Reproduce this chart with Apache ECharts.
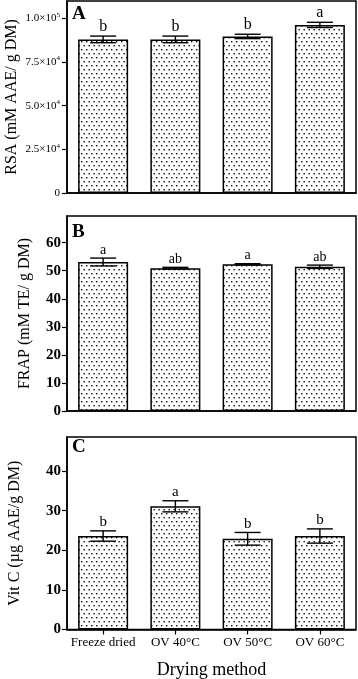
<!DOCTYPE html>
<html>
<head>
<meta charset="utf-8">
<script src="https://cdn.jsdelivr.net/npm/echarts@6/dist/echarts.min.js"></script>
<style>
    html, body { margin: 0; padding: 0; background: #fff; }
    #chart { width: 358px; height: 679px; }
</style>
</head>
<body>
<div id="chart"></div>
<script>
// drying methods
const categories = ['Freeze dried', 'OV 40°C', 'OV 50°C', 'OV 60°C']

// panel A - RSA
const rsaMean = [88000, 88000, 89700, 96300]
const rsaErr = [1900, 1900, 1250, 1500]
const rsaLetters = ['b', 'b', 'b', 'a']

// panel B - FRAP
const frapMean = [53.1, 50.9, 52.3, 51.4]
const frapErr = [1.4, 0.3, 0.2, 0.6]
const frapLetters = ['a', 'ab', 'a', 'ab']

// panel C - Vit C
const vitcMean = [23.6, 31.1, 22.9, 23.6]
const vitcErr = [1.3, 1.4, 1.6, 1.8]
const vitcLetters = ['b', 'a', 'b', 'b']

const FONT = 'Liberation Serif'

// stippled fill like the original bars
const makeDots = () => {
    const c = document.createElement('canvas')
    c.width = 10
    c.height = 8
    const ctx = c.getContext('2d')
    ctx.fillStyle = '#fff'
    ctx.fillRect(0, 0, 10, 8)
    ctx.fillStyle = '#111'
    ctx.fillRect(1, 1, 1.4, 1.4)
    ctx.fillRect(6, 1, 1.4, 1.4)
    ctx.fillRect(3.5, 5, 1.4, 1.4)
    ctx.fillRect(8.5, 5, 1.4, 1.4)
    return c
}
const dots = makeDots()

const grids = [
    { left: 67, width: 289, top: 1, height: 192 },
    { left: 67, width: 289, top: 216, height: 195 },
    { left: 67, width: 289, top: 437, height: 192.5 },
]

const errorSeries = (idx, mean, err, letters, fontSize) => ({
    type: 'custom',
    xAxisIndex: idx,
    yAxisIndex: idx,
    z: 5,
    silent: true,
    data: mean.map((m, i) => [i, m, err[i]]),
    renderItem: (params, api) => {
        const x = api.value(0)
        const m = api.value(1)
        const e = api.value(2)
        const hi = api.coord([x, m + e])
        const lo = api.coord([x, m - e])
        const cap = 13
        const st = { stroke: '#000', lineWidth: 1.4 }
        return {
            type: 'group',
            children: [
                { type: 'line', shape: { x1: hi[0], y1: hi[1], x2: lo[0], y2: lo[1] }, style: st },
                { type: 'line', shape: { x1: hi[0] - cap, y1: hi[1], x2: hi[0] + cap, y2: hi[1] }, style: st },
                { type: 'line', shape: { x1: lo[0] - cap, y1: lo[1], x2: lo[0] + cap, y2: lo[1] }, style: st },
                {
                    type: 'text',
                    x: hi[0],
                    y: hi[1] - 1,
                    style: {
                        text: letters[params.dataIndex],
                        fill: '#000',
                        font: `${fontSize}px "${FONT}"`,
                        textAlign: 'center',
                        textVerticalAlign: 'bottom',
                    },
                },
            ],
        }
    },
})

const barSeries = (idx, mean) => ({
    type: 'bar',
    xAxisIndex: idx,
    yAxisIndex: idx,
    barWidth: 50,
    data: mean,
    itemStyle: {
        color: { image: dots, repeat: 'repeat' },
        borderColor: '#000',
        borderWidth: 1.5,
    },
})

const xAxisBase = idx => ({
    type: 'category',
    gridIndex: idx,
    data: categories,
    axisLine: { lineStyle: { color: '#000', width: 1.5 } },
    axisTick: { show: idx === 2, alignWithLabel: true, length: 5, lineStyle: { color: '#000', width: 1.2 } },
    axisLabel: {
        show: idx === 2,
        interval: 0,
        color: '#000',
        fontFamily: FONT,
        fontSize: 13,
        margin: 7,
    },
    name: idx === 2 ? 'Drying method' : '',
    nameLocation: 'middle',
    nameGap: 32,
    nameMoveOverlap: false,
    nameTextStyle: { color: '#000', fontFamily: FONT, fontSize: 18 },
})

const yAxisBase = (idx, name, max, interval, gap) => ({
    type: 'value',
    gridIndex: idx,
    min: 0,
    max,
    interval,
    name,
    nameLocation: 'middle',
    nameRotate: 90,
    nameGap: gap,
    nameMoveOverlap: false,
    nameTextStyle: { color: '#000', fontFamily: FONT, fontSize: 16 },
    axisLine: { show: true, lineStyle: { color: '#000', width: 1.5 } },
    axisTick: { show: true, length: 5, lineStyle: { color: '#000', width: 1.2 } },
    splitLine: { show: false },
    axisLabel: {
        color: '#000',
        fontFamily: FONT,
        fontSize: 15,
        fontWeight: 'bold',
        margin: 6,
        showMaxLabel: false,
    },
})

const rsaAxis = yAxisBase(0, 'RSA (mM AAE/ g DM)', 110000, 25000, 47)
rsaAxis.axisLabel = {
    color: '#000',
    margin: 7,
    showMaxLabel: false,
    formatter: v => {
        if (v === 0) return '{m|0}'
        const exp = Math.floor(Math.log10(v))
        return `{m|${(v / Math.pow(10, exp)).toFixed(1)}×10}{s|${exp}}`
    },
    rich: {
        m: { fontFamily: FONT, fontSize: 11, color: '#000', lineHeight: 14 },
        s: { fontFamily: FONT, fontSize: 7, color: '#000', lineHeight: 14, verticalAlign: 'top' },
    },
}

const chart = echarts.init(document.getElementById('chart'))
chart.setOption({
    animation: false,
    grid: grids.map(g => ({
        ...g,
        show: true,
        outerBoundsMode: 'none',
        containLabel: false,
        borderColor: '#000',
        borderWidth: 1.5,
        backgroundColor: 'transparent',
    })),
    xAxis: [xAxisBase(0), xAxisBase(1), xAxisBase(2)],
    yAxis: [
        rsaAxis,
        yAxisBase(1, 'FRAP (mM TE/ g DM)', 69.5, 10, 34),
        yAxisBase(2, 'Vit C (µg AAE/g DM)', 48.6, 10, 44),
    ],
    graphic: [
        { type: 'text', left: 72, top: 5, style: { text: 'A', font: `bold 19px "${FONT}"`, fill: '#000' } },
        { type: 'text', left: 72, top: 223, style: { text: 'B', font: `bold 19px "${FONT}"`, fill: '#000' } },
        { type: 'text', left: 72, top: 438, style: { text: 'C', font: `bold 19px "${FONT}"`, fill: '#000' } },
    ],
    series: [
        barSeries(0, rsaMean),
        errorSeries(0, rsaMean, rsaErr, rsaLetters, 16),
        barSeries(1, frapMean),
        errorSeries(1, frapMean, frapErr, frapLetters, 14),
        barSeries(2, vitcMean),
        errorSeries(2, vitcMean, vitcErr, vitcLetters, 15),
    ],
})
</script>
</body>
</html>
